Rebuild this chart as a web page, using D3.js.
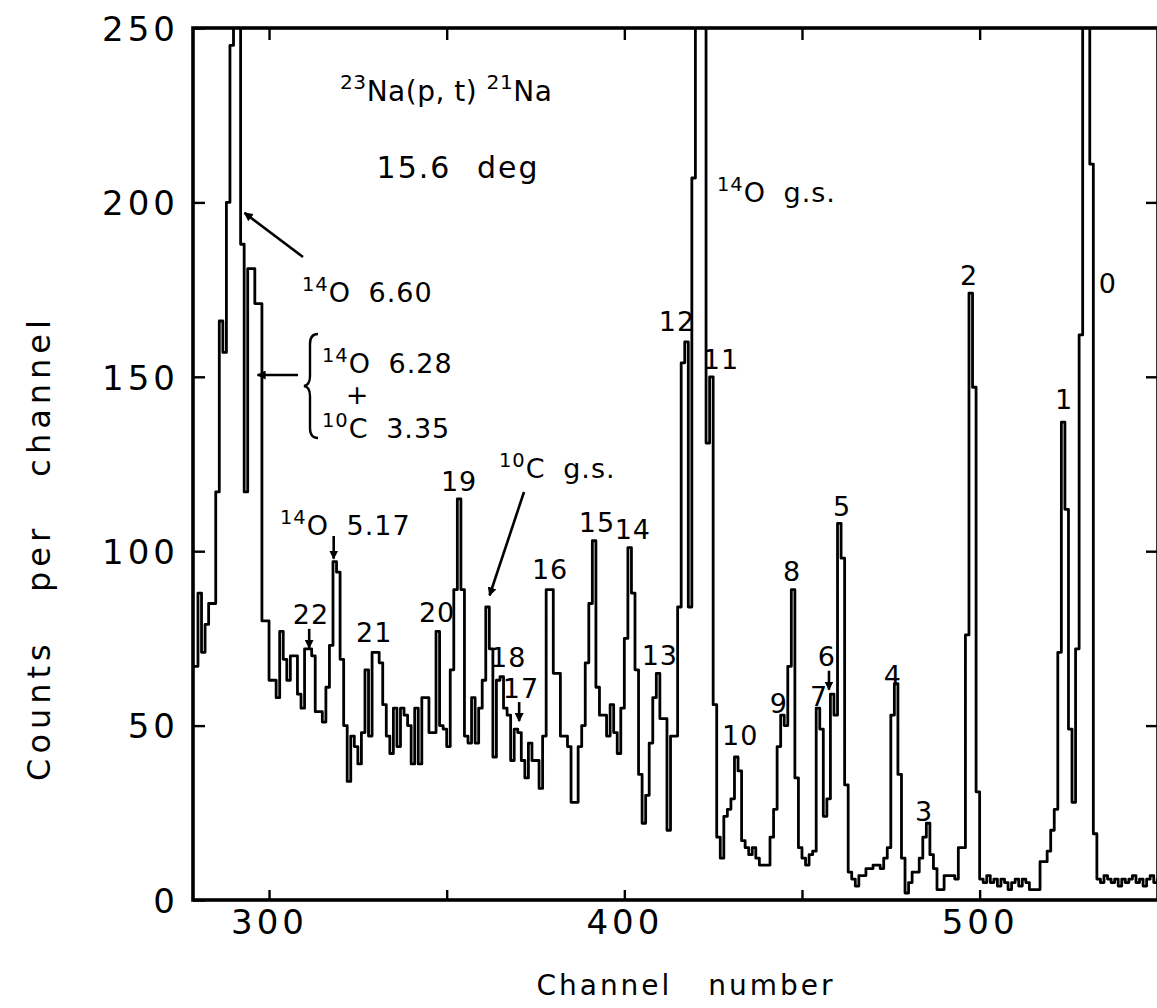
<!DOCTYPE html>
<html>
<head>
<meta charset="utf-8">
<script src="https://cdn.jsdelivr.net/npm/d3@7"></script>
<style>
  html, body { margin: 0; padding: 0; background: #fff; }
  svg { display: block; }
  text { font-family: "DejaVu Sans", sans-serif; fill: #000; }
</style>
</head>
<body>
<svg id="chart" width="1157" height="1008"></svg>
<script>
// ---- spectrum data: counts per channel, starting at channel 278 ----
const firstChannel = 278;
const counts = [
  67, 67, 88, 71, 79, 85, 85, 117, 166, 157,          // 278-287
  200, 245, 300, 300, 188, 117, 181, 181, 171, 171,   // 288-297
  80, 80, 63, 63, 58, 77, 69, 63, 70, 70,             // 298-307
  59, 55, 72, 72, 70, 54, 54, 51, 61, 73,             // 308-317
  97, 94, 69, 50, 34, 47, 44, 39, 48, 66,             // 318-327
  47, 71, 71, 68, 56, 47, 42, 55, 44, 55,             // 328-337
  53, 50, 39, 55, 39, 58, 58, 48, 48, 77,             // 338-347
  50, 49, 44, 66, 89, 115, 89, 47, 45, 58,            // 348-357
  45, 55, 63, 84, 72, 41, 63, 64, 55, 53,             // 358-367
  40, 49, 48, 40, 35, 45, 40, 40, 32, 47,             // 368-377
  89, 89, 65, 65, 47, 47, 44, 28, 28, 44,             // 378-387
  50, 68, 85, 103, 61, 53, 53, 47, 56, 48,            // 388-397
  42, 55, 75, 101, 88, 66, 36, 22, 30, 45,            // 398-407
  58, 65, 52, 52, 20, 47, 47, 84, 154, 160,           // 408-417
  84, 207, 300, 300, 300, 131, 150, 56, 18, 12,       // 418-427
  24, 26, 29, 41, 37, 17, 15, 13, 15, 12,             // 428-437
  10, 10, 10, 18, 26, 44, 53, 50, 67, 89,             // 438-447
  35, 15, 12, 10, 13, 14, 55, 49, 24, 29,             // 448-457
  59, 53, 108, 98, 33, 8, 6, 4, 7, 7,                 // 458-467
  9, 9, 10, 10, 9, 12, 15, 53, 62, 36,                // 468-477
  12, 2, 5, 8, 8, 12, 18, 22, 13, 9,                  // 478-487
  3, 3, 7, 7, 7, 6, 15, 15, 76, 174,                  // 488-497
  147, 31, 6, 5, 7, 5, 6, 4, 6, 5,                    // 498-507
  3, 5, 6, 4, 6, 5, 3, 3, 3, 11,                      // 508-517
  11, 14, 20, 26, 71, 137, 112, 49, 28, 72,           // 518-527
  162, 300, 300, 211, 19, 6, 5, 7, 6, 5,              // 528-537
  6, 4, 6, 5, 6, 7, 5, 6, 4, 6,                       // 538-547
  7, 5, 6                                             // 548-550
];

// ---- axes ----
const xTicks = [300, 350, 400, 450, 500];
const xTickLabels = [300, 400, 500];
const yTicks = [0, 50, 100, 150, 200, 250];
const yInnerTicks = [50, 100, 150, 200];

// ---- numbered levels of 21Na: label, channel, counts at the label ----
const levelLabels   = ["0", "1", "2", "3", "4", "5", "6", "7", "8", "9", "10", "11",
                       "12", "13", "14", "15", "16", "17", "18", "19", "20", "21", "22"];
const levelChannels = [536.1, 523.8, 497.0, 484.4, 475.6, 461.3, 457.0, 454.8, 447.2, 443.5, 432.6, 427.2,
                       414.8, 410.0, 402.4, 392.3, 379.1, 370.9, 367.3, 353.5, 347.3, 329.6, 311.8];
const levelCounts   = [173.9, 140.8, 176.4, 22.7, 61.5, 110, 67, 55.5, 91.4, 53.7, 44.5, 152.3,
                       163, 67.5, 103.4, 105.5, 92, 58, 66.7, 117.2, 79.6, 73.9, 79];
// levels marked with a small downward arrow: channel, counts at the arrow tip
const arrowLevels   = ["22", "17", "6"];
const arrowChannels = [311.3, 370.4, 457.6];
const arrowCounts   = [72, 51, 60];

const svg = d3.select("#chart");
const plotLeft = 193, plotRight = 1158, plotTop = 28, plotBottom = 900;

const x = d3.scaleLinear().domain([278.6, 550.2]).range([plotLeft, plotRight]);
const y = d3.scaleLinear().domain([0, 250]).range([plotBottom, plotTop]);

const defs = svg.append("defs");
defs.append("clipPath").attr("id", "plotClip")
  .append("rect").attr("x", plotLeft).attr("y", plotTop)
  .attr("width", plotRight - plotLeft).attr("height", plotBottom - plotTop);

const marker = defs.append("marker")
  .attr("id", "head").attr("viewBox", "0 0 10 10")
  .attr("refX", 9).attr("refY", 5)
  .attr("markerWidth", 9).attr("markerHeight", 9)
  .attr("markerUnits", "userSpaceOnUse")
  .attr("orient", "auto");
marker.append("path").attr("d", "M0,0 L10,5 L0,10 Z").attr("fill", "#000");

// ---- step histogram ----
const pts = counts.map((v, i) => [firstChannel + i, v]);
pts.push([firstChannel + counts.length, counts[counts.length - 1]]);
const line = d3.line().x(d => x(d[0])).y(d => y(d[1])).curve(d3.curveStepAfter);
svg.append("path")
  .attr("clip-path", "url(#plotClip)")
  .attr("d", line(pts))
  .attr("fill", "none").attr("stroke", "#000")
  .attr("stroke-width", 2.8).attr("stroke-linejoin", "round");

// ---- frame and ticks ----
function styleAxis(g) {
  g.select(".domain").remove();
  g.selectAll(".tick line").attr("stroke", "#000").attr("stroke-width", 2.4);
  g.selectAll(".tick text")
    .style("font-family", "'DejaVu Sans', sans-serif")
    .style("font-size", "34px").style("letter-spacing", "4px").attr("fill", "#000");
}

svg.append("g").attr("transform", `translate(0,${plotBottom})`)
  .call(d3.axisBottom(x).tickValues(xTicks).tickSizeInner(-10).tickSizeOuter(0)
    .tickPadding(10).tickFormat(d => xTickLabels.includes(d) ? d : ""))
  .call(styleAxis);

svg.append("g").attr("transform", `translate(0,${plotTop})`)
  .call(d3.axisTop(x).tickValues(xTicks).tickSizeInner(-12).tickSizeOuter(0).tickFormat(""))
  .call(styleAxis);

svg.append("g").attr("transform", `translate(${plotLeft},0)`)
  .call(d3.axisLeft(y).tickValues(yTicks).tickSizeInner(-12).tickSizeOuter(0).tickPadding(14))
  .call(styleAxis)
  .call(g => g.selectAll(".tick text").attr("dy", "0.36em"));

svg.append("g").attr("transform", `translate(${plotRight},0)`)
  .call(d3.axisRight(y).tickValues(yInnerTicks).tickSizeInner(-12).tickSizeOuter(0).tickFormat(""))
  .call(styleAxis);

svg.append("rect")
  .attr("x", plotLeft).attr("y", plotTop)
  .attr("width", plotRight - plotLeft).attr("height", plotBottom - plotTop)
  .attr("fill", "none").attr("stroke", "#000").attr("stroke-width", 3.6);

// ---- axis titles ----
svg.append("text")
  .attr("transform", `translate(50,548) rotate(-90)`)
  .attr("text-anchor", "middle")
  .style("font-size", "32px").style("letter-spacing", "5px").style("word-spacing", "32px")
  .text("Counts per channel");

svg.append("text")
  .attr("x", 686).attr("y", 995)
  .attr("text-anchor", "middle")
  .style("font-size", "28px").style("letter-spacing", "3px").style("word-spacing", "24px")
  .text("Channel number");

// ---- annotations ----
// text with superscript mass numbers: parts = [[text, isSup], ...]
function richText(px, py, parts, size) {
  const t = svg.append("text").attr("x", px).attr("y", py)
    .style("font-size", size + "px").style("letter-spacing", "1px");
  let raised = false;
  parts.forEach(([s, sup]) => {
    const span = t.append("tspan").text(s);
    if (sup && !raised) { span.attr("dy", -size * 0.42); raised = true; }
    else if (!sup && raised) { span.attr("dy", size * 0.42); raised = false; }
    if (sup) span.style("font-size", (size * 0.72) + "px");
  });
  return t;
}

// reaction and angle
richText(340, 101, [["23", true], ["Na(p, t)", false], [" ", false], ["21", true], ["Na", false]], 28)
  .style("letter-spacing", "0.5px");
svg.append("text").attr("x", 458).attr("y", 178).attr("text-anchor", "middle")
  .style("font-size", "30px").style("letter-spacing", "2px").style("word-spacing", "14px")
  .text("15.6 deg");

// contaminant groups
richText(717, 202, [["14", true], ["O g.s.", false]], 27).style("word-spacing", "8px");
richText(302, 302, [["14", true], ["O  6.60", false]], 27).style("word-spacing", "8px");
richText(322, 373, [["14", true], ["O  6.28", false]], 27).style("word-spacing", "8px");
svg.append("text").attr("x", 357).attr("y", 404).attr("text-anchor", "middle")
  .style("font-size", "27px").text("+");
richText(322, 438, [["10", true], ["C  3.35", false]], 27).style("word-spacing", "8px");
richText(280, 535, [["14", true], ["O  5.17", false]], 27).style("word-spacing", "8px");
richText(499, 478, [["10", true], ["C g.s.", false]], 27).style("word-spacing", "8px");

// brace around the doublet
svg.append("path")
  .attr("d", "M318,334 Q310,334 310,344 L310,376 Q310,385 304,386 Q310,387 310,396 L310,428 Q310,438 318,438")
  .attr("fill", "none").attr("stroke", "#000").attr("stroke-width", 2.4);

// pointers from the labels to the peaks
function pointer(x1, y1, x2, y2) {
  svg.append("line").attr("x1", x1).attr("y1", y1).attr("x2", x2).attr("y2", y2)
    .attr("stroke", "#000").attr("stroke-width", 2.6).attr("marker-end", "url(#head)");
}
pointer(303, 257, x(293.1), y(197));
pointer(298, 375, x(296.2) + 2, 375);
pointer(524, 492, x(361.5) + 2, y(85) - 8);
pointer(x(318.2), 536, x(318.2), y(97) - 3);

// numbered levels
levelLabels.forEach((s, i) => {
  svg.append("text")
    .attr("x", x(levelChannels[i])).attr("y", y(levelCounts[i]))
    .attr("text-anchor", "middle")
    .style("font-size", "27px").style("letter-spacing", "1px")
    .text(s);
});
arrowLevels.forEach((s, i) => {
  const ax = x(arrowChannels[i]), ay = y(arrowCounts[i]);
  pointer(ax, ay - 20, ax, ay - 1);
});
</script>
</body>
</html>
